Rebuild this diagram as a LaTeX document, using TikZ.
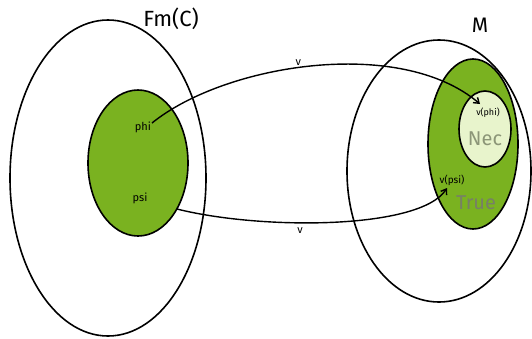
\documentclass[tikz,border=0pt]{standalone}
\usepackage{fontspec}
\setmainfont{Fira Sans}
\usetikzlibrary{arrows.meta}
\definecolor{leaf}{RGB}{122,178,32}
\definecolor{pale}{RGB}{232,244,204}
\definecolor{faint}{RGB}{140,150,120}
\begin{document}
\begin{tikzpicture}[x=1pt,y=-1pt,
  set/.style={draw=black,line width=1.6pt},
  lbl/.style={inner sep=0pt,font=\fontsize{11}{12}\selectfont},
  map/.style={line width=1.4pt,-{Straight Barb[length=5pt,width=7pt]}}]
\useasboundingbox (0,0) rectangle (532,338);
% sets
\draw[set] (108,178) ellipse [x radius=98,y radius=158];
\draw[set,fill=leaf] (138,163) ellipse [x radius=50,y radius=73];
\draw[set] (439,171) ellipse [x radius=92,y radius=131];
\draw[set,fill=leaf] (473,144) ellipse [x radius=45,y radius=85];
\draw[set,fill=pale] (485,129) ellipse [x radius=26,y radius=38];
% titles
\node[inner sep=0pt,font=\fontsize{22}{24}\selectfont] (fm) at (171,19) {Fm(C)};
\node[inner sep=0pt,font=\fontsize{21}{22}\selectfont] (m) at (480,25) {M};
% elements
\node[lbl] (phi) at (143,127) {phi};
\node[lbl] (psi) at (140,198) {psi};
\node[lbl,font=\fontsize{9}{10}\selectfont] (vphi) at (488,113) {v(phi)};
\node[lbl,font=\fontsize{10}{11}\selectfont] (vpsi) at (452,180) {v(psi)};
\node[inner sep=0pt,text=faint,font=\fontsize{20}{22}\selectfont] (nec) at (485,139) {Nec};
\node[inner sep=0pt,text=faint!85!black,font=\fontsize{20}{22}\selectfont] (true) at (476,203) {True};
% valuation arrows
\coordinate (a1) at (152,123);
\coordinate (b1) at (480,104);
\coordinate (a2) at (177,209);
\coordinate (b2) at (447,188);
\draw[map] (a1) .. controls (225,64) and (400,36) .. node[lbl,above=1pt,pos=0.46] {v} (b1);
\draw[map] (a2) .. controls (260,230) and (420,230) .. node[lbl,below=4pt,pos=0.40] {v} (b2);
\end{tikzpicture}
\end{document}
